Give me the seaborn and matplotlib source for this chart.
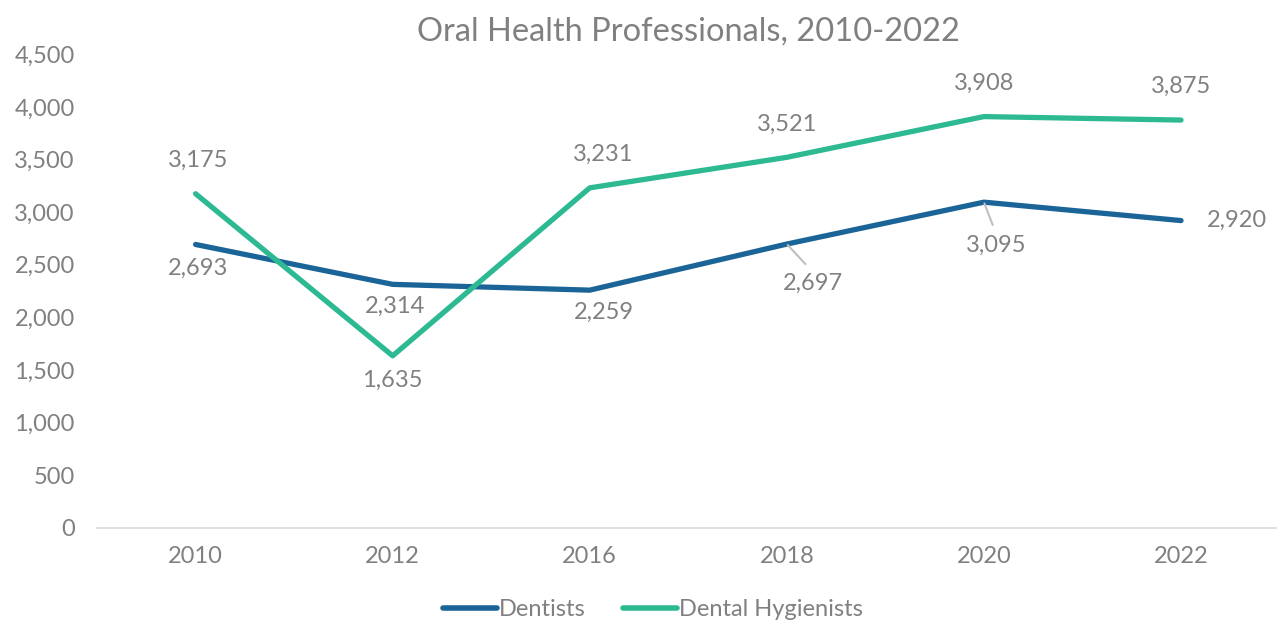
import numpy as np
import pandas as pd
import matplotlib
matplotlib.use("Agg")
import matplotlib.pyplot as plt
import seaborn as sns

years = ["2010", "2012", "2016", "2018", "2020", "2022"]
dentists = [2693, 2314, 2259, 2697, 3095, 2920]
hygienists = [3175, 1635, 3231, 3521, 3908, 3875]

df = pd.DataFrame({
    "year": years * 2,
    "count": dentists + hygienists,
    "group": ["Dentists"] * len(years) + ["Dental Hygienists"] * len(years),
})

sns.set_theme(style="white")
plt.rcParams["font.family"] = ["Lato", "DejaVu Sans"]
gray = "#808080"
palette = {"Dentists": "#1b6498", "Dental Hygienists": "#2dba93"}

fig = plt.figure(figsize=(12.77, 6.24), dpi=100)
ax = fig.add_axes([0.076, 0.154, 0.926, 0.759])
sns.lineplot(data=df, x="year", y="count", hue="group", palette=palette,
             linewidth=3.8, ax=ax, sort=False, legend=True)

ax.set_xlim(-0.5, 5.5)
ax.set_ylim(0, 4500)
ax.set_yticks(np.arange(0, 4501, 500))
ax.set_yticklabels([f"{v:,}" for v in range(0, 4501, 500)])
ax.set_xlabel("")
ax.set_ylabel("")
ax.tick_params(axis="both", colors=gray, labelsize=17, length=0)
ax.tick_params(axis="x", pad=13)
ax.tick_params(axis="y", pad=16)
for s in ["top", "right", "left"]:
    ax.spines[s].set_visible(False)
ax.spines["bottom"].set_color("#d9d9d9")
ax.spines["bottom"].set_linewidth(1.2)

ax.set_title("Oral Health Professionals, 2010-2022", color=gray, fontsize=23.5, pad=10)

# data labels: (dx, dy) offsets in points
dent_off = [(2, -17), (2, -16), (10, -16), (19, -28), (9, -31), (40, 0)]
hyg_off = [(2, 24), (0, -18), (10, 24), (0, 24), (0, 24), (0, 24)]
for i, (v, off) in enumerate(zip(dentists, dent_off)):
    leader = i in (3, 4)
    ax.annotate(f"{v:,}", (i, v), xytext=off, textcoords="offset points",
                ha="center", va="center", color=gray, fontsize=17,
                arrowprops=dict(arrowstyle="-", color="#bfbfbf", lw=1.5,
                                relpos=(0.5, 1.0), shrinkA=5, shrinkB=1) if leader else None)
for i, (v, off) in enumerate(zip(hygienists, hyg_off)):
    ax.annotate(f"{v:,}", (i, v), xytext=off, textcoords="offset points",
                ha="center", va="center", color=gray, fontsize=17)

leg = ax.legend(loc="upper center", bbox_to_anchor=(0.47, -0.105), ncol=2,
                frameon=False, fontsize=17, handlelength=2.3, handletextpad=0.05,
                columnspacing=1.6)
for t in leg.get_texts():
    t.set_color(gray)
for h in leg.get_lines():
    h.set_linewidth(4)
    h.set_solid_capstyle("round")

fig.savefig("out.png", dpi=100)
